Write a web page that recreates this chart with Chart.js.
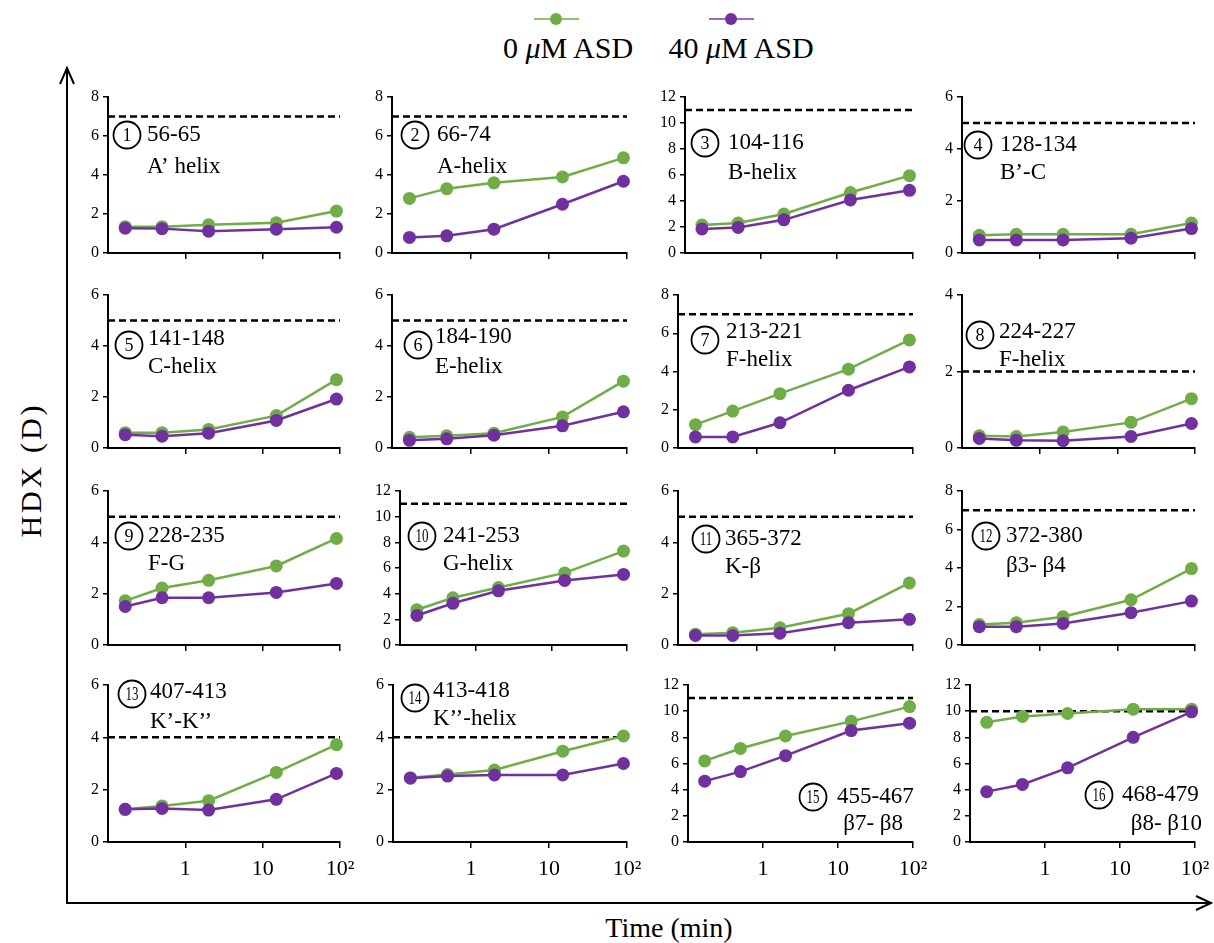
<!DOCTYPE html>
<html><head><meta charset="utf-8">
<script src="https://cdn.jsdelivr.net/npm/chart.js@4.4.1/dist/chart.umd.min.js"></script>
<style>
html,body{margin:0;padding:0;background:#fff;overflow:hidden;width:1214px;height:943px;}
#wrap{position:relative;width:1214px;height:943px;font-family:'Liberation Serif','Times New Roman',serif;color:#000;}
#wrap canvas{position:absolute;}
.txt{position:absolute;white-space:nowrap;color:#000;font-family:'Liberation Serif','Times New Roman',serif;}
</style></head>
<body><div id="wrap">
<svg width="1214" height="943" style="position:absolute;left:0;top:0">
  <line x1="67" y1="903" x2="67" y2="69" stroke="#000" stroke-width="2"/>
  <polyline points="60,84 67,68 74,84" stroke="#000" stroke-width="2" fill="none"/>
  <line x1="66" y1="903" x2="1210" y2="903" stroke="#000" stroke-width="2"/>
  <polyline points="1196,896 1211,903 1196,910" stroke="#000" stroke-width="2" fill="none"/>
  <line x1="534" y1="19" x2="579" y2="19" stroke="#8fc26a" stroke-width="2"/>
  <circle cx="556" cy="19" r="6" fill="#70AD47"/>
  <line x1="709" y1="19" x2="754" y2="19" stroke="#9b6cc0" stroke-width="2"/>
  <circle cx="731" cy="19" r="6" fill="#7030A0"/>
</svg>
<div class="txt" id="leg0" style="left:568px;top:48px;font-size:30px;transform:translate(-50%,-50%);"></div>
<div class="txt" id="leg1" style="left:741px;top:48px;font-size:30px;transform:translate(-50%,-50%);"></div>
<div class="txt" id="ylab" style="left:31px;top:470px;font-size:30px;letter-spacing:3px;transform:translate(-50%,-50%) rotate(-90deg);"></div>
<div class="txt" id="xlab" style="left:669px;top:928px;font-size:28px;transform:translate(-50%,-50%);"></div>
</div>
<script>
// ---------- DATA ----------
const times = [0.167, 0.5, 2, 15, 90];           // labelling times (min)
const seriesNames = ['0 μM ASD', '40 μM ASD'];
const yAxisTitle = 'HDX (D)';
const xAxisTitle = 'Time  (min)';
const peptides = ['56-65','66-74','104-116','128-134','141-148','184-190','213-221','224-227',
                  '228-235','241-253','365-372','372-380','407-413','413-418','455-467','468-479'];
const regions  = ['A’ helix','A-helix','B-helix','B’-C','C-helix','E-helix','F-helix','F-helix',
                  'F-G','G-helix','K-β','β3- β4','K’-K’’','K’’-helix','β7- β8','β8- β10'];
const yMax = [8,8,12,6, 6,6,8,4, 6,12,6,8, 6,6,12,12];
const maxD = [7,7,11,5, 5,5,7,2, 5,11,5,7, 4,4,11,10];
const xTickValues = [1, 10, 100];
const xTickLabels = ['1', '10', '10²'];
const hdx0 = [
  [1.35,1.35,1.45,1.55,2.15],
  [2.8,3.3,3.6,3.9,4.88],
  [2.15,2.3,3.0,4.65,5.95],
  [0.68,0.72,0.72,0.72,1.15],
  [0.6,0.6,0.73,1.27,2.68],
  [0.42,0.48,0.58,1.22,2.62],
  [1.22,1.93,2.84,4.12,5.65],
  [0.32,0.3,0.42,0.67,1.29],
  [1.72,2.22,2.52,3.08,4.15],
  [2.75,3.68,4.48,5.62,7.32],
  [0.42,0.48,0.67,1.22,2.42],
  [1.06,1.15,1.47,2.35,3.97],
  [1.25,1.38,1.58,2.66,3.72],
  [2.46,2.58,2.75,3.47,4.05],
  [6.2,7.15,8.1,9.22,10.35],
  [9.15,9.6,9.82,10.15,10.15]
];
const hdx40 = [
  [1.27,1.25,1.12,1.22,1.32],
  [0.8,0.88,1.22,2.5,3.68],
  [1.85,1.97,2.55,4.08,4.82],
  [0.5,0.5,0.5,0.57,0.94],
  [0.52,0.46,0.58,1.08,1.92],
  [0.3,0.36,0.5,0.87,1.42],
  [0.58,0.58,1.32,3.02,4.24],
  [0.25,0.2,0.19,0.3,0.64],
  [1.5,1.84,1.84,2.05,2.4],
  [2.3,3.25,4.22,5.03,5.5],
  [0.37,0.37,0.46,0.87,1.0],
  [0.95,0.95,1.12,1.68,2.28],
  [1.25,1.28,1.22,1.63,2.62],
  [2.44,2.52,2.56,2.56,3.0],
  [4.65,5.38,6.6,8.52,9.08],
  [3.85,4.4,5.67,8.0,9.95]
];

// ---------- LAYOUT / STYLE ----------
const colors = ['#70AD47', '#7030A0'];
const panelLeft = [108,392,685,962, 108,392,678,962, 108,400,678,962, 108,393,688,970];
const colRight = [340, 627, 913, 1195];
const rowTop = [97, 295, 491, 685];
const rowBottom = [253, 448, 645, 842];
// [circle dx, circle dy, text1 dx, text1 dy, align1, text2 dx, text2 dy, align2]
const labelLayout = [
  [19,38, 39,38,'left', 39,70,'left'],
  [23,38, 45,38,'left', 45,70,'left'],
  [20,46, 43,46,'left', 43,76,'left'],
  [16,48, 38,48,'left', 38,76,'left'],
  [21,50, 40,44,'left', 40,72,'left'],
  [26,50, 43,42,'left', 43,72,'left'],
  [27,45, 48,37,'left', 48,65,'left'],
  [18,40, 37,37,'left', 37,65,'left'],
  [21,45, 40,45,'left', 40,73,'left'],
  [22,45, 43,45,'left', 43,73,'left'],
  [28,48, 47,48,'left', 47,76,'left'],
  [24,45, 44,45,'left', 44,75,'left'],
  [24,9, 42,7,'left', 42,37,'left'],
  [22,13, 40,6,'left', 40,34,'left'],
  [125,112, 149,112,'left', 215,139,'right'],
  [129,110, 152,110,'left', 232,139,'right']
];
const FONT = "'Liberation Serif', 'Times New Roman', serif";

document.getElementById('leg0').innerHTML = seriesNames[0].replace('μ','<i>μ</i>');
document.getElementById('leg1').innerHTML = seriesNames[1].replace('μ','<i>μ</i>');
document.getElementById('ylab').textContent = yAxisTitle;
document.getElementById('xlab').textContent = xAxisTitle;

const panelLabelPlugin = {
  id: 'panelLabel',
  afterDraw(chart) {
    const i = chart.options.plugins.panelLabel.index;
    const lay = labelLayout[i];
    const {left, top} = chart.chartArea;
    const ctx = chart.ctx;
    ctx.save();
    ctx.beginPath();
    ctx.arc(left + lay[0], top + lay[1], 13.5, 0, Math.PI * 2);
    ctx.lineWidth = 1.8; ctx.strokeStyle = '#000'; ctx.stroke();
    ctx.fillStyle = '#000'; ctx.textBaseline = 'middle'; ctx.textAlign = 'center';
    const num = String(i + 1);
    if (num.length > 1) {
      ctx.save();
      ctx.translate(left + lay[0], top + lay[1] + 1);
      ctx.scale(0.72, 1);
      ctx.font = '18px ' + FONT;
      ctx.fillText(num, 0, 0);
      ctx.restore();
    } else {
      ctx.font = '18px ' + FONT;
      ctx.fillText(num, left + lay[0], top + lay[1] + 1);
    }
    ctx.font = '23px ' + FONT;
    ctx.textAlign = lay[4];
    ctx.fillText(peptides[i], left + lay[2], top + lay[3]);
    ctx.textAlign = lay[7];
    ctx.fillText(regions[i], left + lay[5], top + lay[6]);
    ctx.restore();
  }
};

const wrap = document.getElementById('wrap');
const padL = 50, padT = 15, padR = 32, padB = 48;
for (let i = 0; i < 16; i++) {
  const row = Math.floor(i / 4), col = i % 4;
  const L = panelLeft[i], R = colRight[col], T = rowTop[row], B = rowBottom[row];
  const cv = document.createElement('canvas');
  const w = (R - L) + padL + padR, h = (B - T) + padT + padB;
  cv.width = w; cv.height = h;
  cv.style.width = w + 'px'; cv.style.height = h + 'px';
  cv.style.left = (L - padL) + 'px'; cv.style.top = (T - padT) + 'px';
  wrap.appendChild(cv);
  const isBottom = row === 3;
  new Chart(cv.getContext('2d'), {
    type: 'line',
    data: {
      datasets: [
        { label: seriesNames[0], data: times.map((t, j) => ({x: t, y: hdx0[i][j]})),
          borderColor: colors[0], backgroundColor: colors[0], pointBackgroundColor: colors[0],
          borderWidth: 2.5, pointRadius: 6.5, pointBorderWidth: 0, tension: 0, order: 2, clip: false },
        { label: seriesNames[1], data: times.map((t, j) => ({x: t, y: hdx40[i][j]})),
          borderColor: colors[1], backgroundColor: colors[1], pointBackgroundColor: colors[1],
          borderWidth: 2.5, pointRadius: 6.5, pointBorderWidth: 0, tension: 0, order: 1, clip: false },
        { label: 'max', data: [{x: 0.1, y: maxD[i]}, {x: 100, y: maxD[i]}],
          borderColor: '#000', borderWidth: 2.5, borderDash: [7, 4], pointRadius: 0, order: 3, clip: false }
      ]
    },
    options: {
      responsive: false, animation: false, devicePixelRatio: 1,
      layout: { padding: { top: padT, right: padR, left: 0, bottom: 0 } },
      plugins: { legend: { display: false }, tooltip: { enabled: false }, panelLabel: { index: i } },
      scales: {
        x: {
          type: 'logarithmic', min: 0.1, max: 100,
          afterBuildTicks: s => { s.ticks = xTickValues.map(v => ({value: v})); },
          afterFit: s => { s.height = padB; },
          grid: { drawOnChartArea: false, drawTicks: true, tickLength: 6, color: '#000', lineWidth: 1.5 },
          border: { display: true, color: '#000', width: 2 },
          ticks: {
            autoSkip: false, maxRotation: 0, padding: 8, color: '#000',
            font: { family: FONT, size: 22 },
            callback: (v) => { if (!isBottom) return ''; const k = xTickValues.indexOf(v); return k >= 0 ? xTickLabels[k] : ''; }
          }
        },
        y: {
          min: 0, max: yMax[i],
          afterFit: s => { s.width = padL; },
          grid: { drawOnChartArea: false, drawTicks: true, tickLength: 5, color: '#000', lineWidth: 1.5 },
          border: { display: true, color: '#000', width: 2 },
          ticks: { stepSize: 2, padding: 4, color: '#000', font: { family: FONT, size: 16 } }
        }
      }
    },
    plugins: [panelLabelPlugin]
  });
}
</script>
</body></html>
